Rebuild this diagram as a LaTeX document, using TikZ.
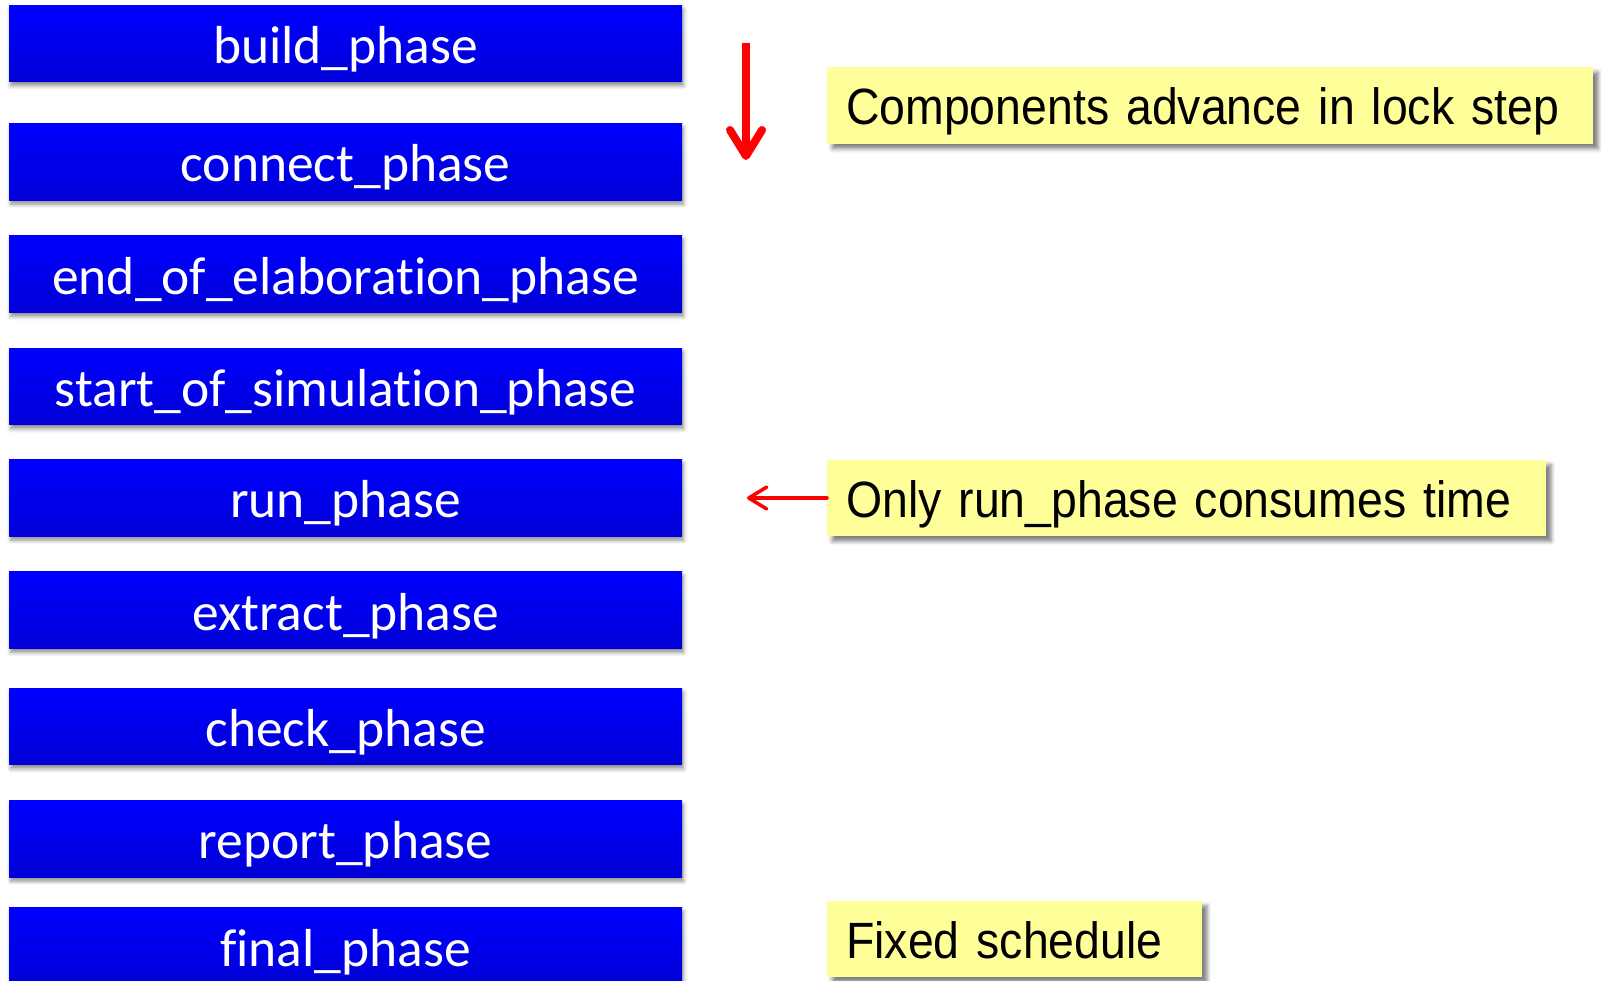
\documentclass[tikz,border=0pt]{standalone}
\usepackage{fontspec}
\newfontfamily\calib[Ligatures=NoCommon]{Carlito}
\newfontfamily\arial[FakeStretch=0.91]{Liberation Sans}
\usetikzlibrary{arrows.meta,shadows.blur}
\definecolor{phtop}{RGB}{0,0,255}
\definecolor{phbot}{RGB}{0,0,215}
\definecolor{note}{RGB}{255,255,153}
\begin{document}
\begin{tikzpicture}[x=1pt,y=-1pt,
  phase/.style={minimum width=672.8pt, minimum height=76.6pt, inner sep=0pt,
    top color=phtop, bottom color=phbot, draw=none,
    blur shadow={shadow xshift=1.5pt, shadow yshift=-4pt, shadow blur radius=4pt, shadow opacity=45},
    font=\calib\fontsize{53.5}{53.5}\selectfont, text=white, text height=53pt, text depth=13pt},
  notebox/.style={anchor=west, fill=note, draw=none, inner xsep=19pt, inner ysep=0pt,
    minimum height=76.6pt, align=left,
    blur shadow={shadow xshift=5pt, shadow yshift=-5pt, shadow blur radius=4pt, shadow opacity=50},
    font=\arial\fontsize{51}{51}\selectfont, text=black, text height=47pt, text depth=8pt},
  redarrow/.style={draw=red, line cap=round, line join=round}
]
\useasboundingbox (0,0) rectangle (1601,981);
\node[phase] (p1) at (345.6,43.4) {build\_phase};
\node[phase] (p2) at (345.6,161.8) {connect\_phase};
\node[phase] (p3) at (345.6,274.2) {end\_of\_elaboration\_phase};
\node[phase] (p4) at (345.6,386.5) {start\_of\_simulation\_phase};
\node[phase] (p5) at (345.6,497.8) {run\_phase};
\node[phase] (p6) at (345.6,610.1) {extract\_phase};
\node[phase] (p7) at (345.6,726.5) {check\_phase};
\node[phase] (p8) at (345.6,838.8) {report\_phase};
\node[phase] (p9) at (345.6,946) {final\_phase};

\node[notebox, text width=728pt] (n1) at (827,105.5) {\mbox{Components advance in lock step}};
\node[notebox, text width=681pt] (n2) at (827,498) {\mbox{Only run\_phase consumes time}};
\node[notebox, text width=337pt] (n3) at (827,939) {\mbox{Fixed schedule}};

\coordinate (d1) at (746,43);
\coordinate (d2) at (746,160);
\coordinate (l2) at (747,498);
\draw[line width=8pt, draw=red, line cap=butt, -{Straight Barb[length=26pt,width=32pt,round]}] (d1) -- (d2);
\draw[redarrow, line width=3.5pt, -{Straight Barb[length=18pt,width=22pt,round]}] (n2.west) -- (l2);
\end{tikzpicture}
\end{document}
